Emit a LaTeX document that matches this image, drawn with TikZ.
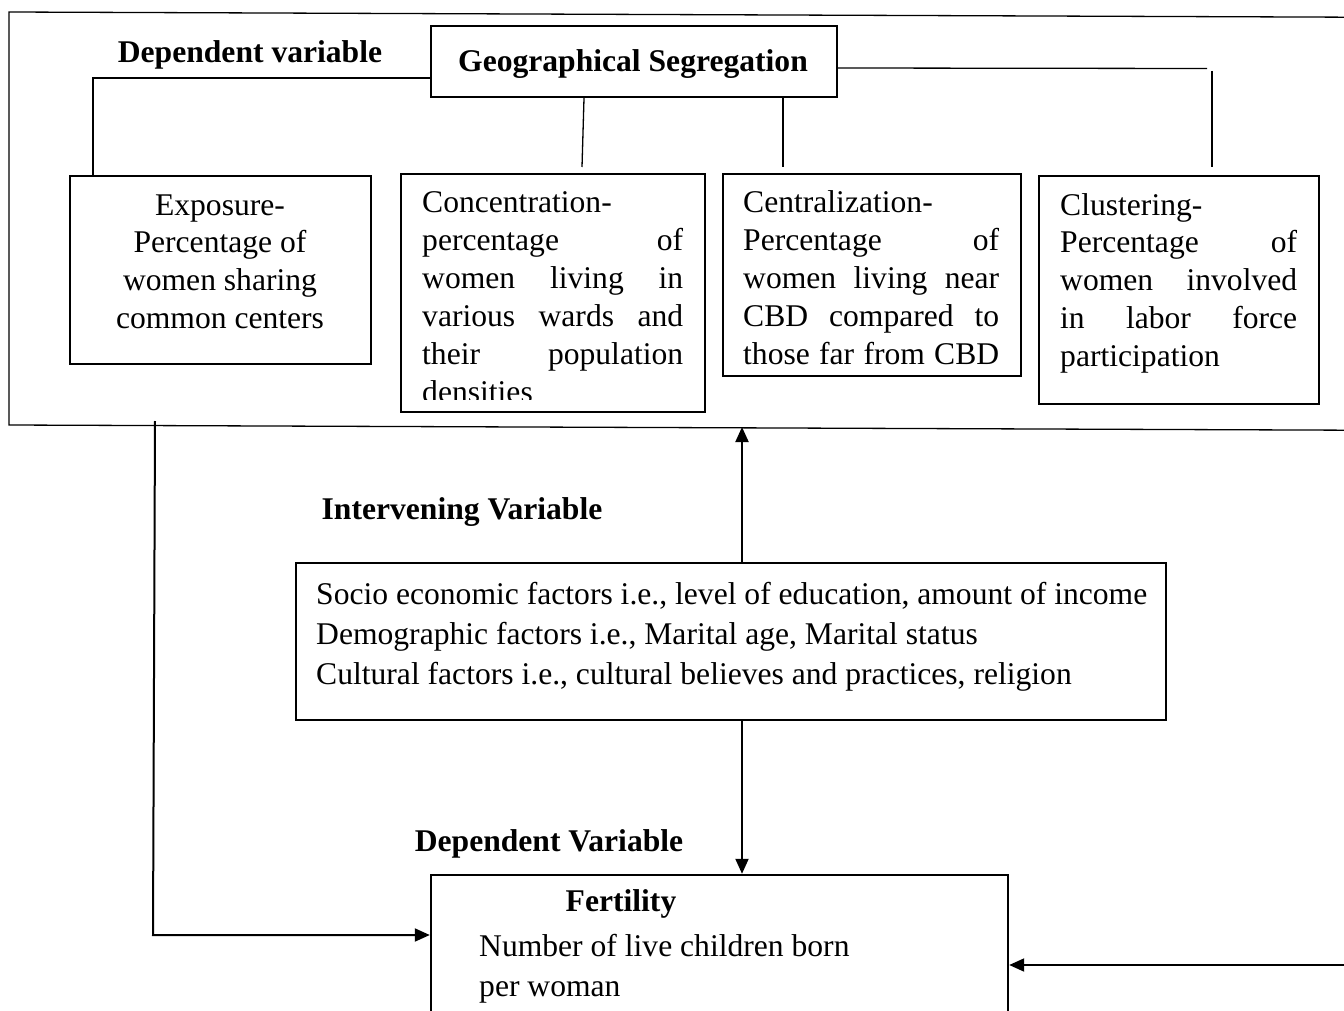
\documentclass[tikz,border=0pt]{standalone}
\usepackage{fontspec}
\setmainfont{Liberation Serif}
\usetikzlibrary{arrows.meta}
\newcommand\sline[1]{\makebox[\linewidth][s]{#1}}
\begin{document}
\begin{tikzpicture}[x=1pt,y=-1pt,
  box/.style={draw,line width=2.4pt,inner sep=0pt,rectangle},
  conn/.style={line width=1.3pt},
  arr/.style={line width=2pt,-{Triangle[length=15pt,width=13pt]}},
  txt/.style={inner sep=0pt,font=\fontsize{31.6}{38}\selectfont},
  hd/.style={inner sep=0pt,font=\fontsize{31.6}{38}\selectfont\bfseries},
]
\clip (0,0) rectangle (1344,1011);
\fill[white] (0,0) rectangle (1344,1011);
% outer frame
\draw[conn] (1350,17.2) -- (9,12) -- (9,425) -- (1350,430.2);
% boxes
\node[box,minimum width=406pt,minimum height=71pt] (gs) at (634,61.5) {};
\node[box,minimum width=301pt,minimum height=188pt] (exp) at (220.5,270) {};
\node[box,minimum width=304pt,minimum height=238pt] (conc) at (553,293) {};
\node[box,minimum width=298pt,minimum height=202pt] (cent) at (872,275) {};
\node[box,minimum width=280pt,minimum height=228pt] (clus) at (1179,290) {};
\node[box,minimum width=870pt,minimum height=157pt] (int) at (731,641.5) {};
\node[box,minimum width=577pt,minimum height=175pt] (fert) at (719.5,962.5) {};
% headings
\node[hd,anchor=base] (dvtop) at (250,63) {Dependent variable};
\node[hd,anchor=base] (gst) at (633,72) {Geographical Segregation};
\node[hd,anchor=base] (ivt) at (462,519) {Intervening Variable};
\node[hd,anchor=base] (dvb) at (549,851) {Dependent Variable};
\node[hd,anchor=base] (fertt) at (621,911) {Fertility};
% box texts
\node[txt,anchor=base] (expt) at (220,215) {\parbox[t]{300pt}{\centering Exposure-\\Percentage of\\women sharing\\common centers}};
\begin{scope}
\clip (401,174) rectangle (705,399.5);
\node[txt,anchor=base west] (conct) at (422,213) {\parbox[t]{261pt}{Concentration-\\\sline{percentage of}\\\sline{women living in}\\\sline{various wards and}\\\sline{their population}\\densities}};
\end{scope}
\node[txt,anchor=base west] (centt) at (743,213) {\parbox[t]{256pt}{Centralization-\\\sline{Percentage of}\\\sline{women living near}\\\sline{CBD compared to}\\\sline{those far from CBD}}};
\node[txt,anchor=base west] (clust) at (1060,215) {\parbox[t]{237pt}{Clustering-\\\sline{Percentage of}\\\sline{women involved}\\\sline{in labor force}\\participation}};
\node[txt,anchor=base west,font=\fontsize{31.6}{40}\selectfont] (intt) at (316,604) {\parbox[t]{850pt}{\raggedright Socio economic factors i.e., level of education, amount of income\\Demographic factors i.e., Marital age, Marital status\\Cultural factors i.e., cultural believes and practices, religion}};
\node[txt,anchor=base west,font=\fontsize{31.6}{40}\selectfont] (fertd) at (479,956) {\parbox[t]{500pt}{\raggedright Number of live children born\\per woman}};
% connectors
\coordinate (c1) at (582,167);
\coordinate (c2) at (783,167);
\coordinate (c3) at (1207,68.5);
\coordinate (c4) at (1212,71);
\coordinate (c5) at (1212,167);
\coordinate (c6) at (742,427);
\coordinate (c7) at (155,421);
\coordinate (c8) at (153,935);
\coordinate (c9) at (1350,965);
\draw[conn] ([yshift=-16.5pt]gs.west) -| ([xshift=-127.5pt]exp.north);
\draw[conn] ([xshift=-50pt]gs.south) -- (c1);
\draw[conn] ([xshift=149pt]gs.south) -- (c2);
\draw[conn] ([yshift=-6.5pt]gs.east) -- (c3);
\draw[conn] (c4) -- (c5);
\draw[arr] ([xshift=11pt]int.north) -- (c6);
\draw[arr] ([xshift=11pt]int.south) -- ([xshift=22.5pt]fert.north);
\draw[arr] (c7) -- (c8) -- ([yshift=27.5pt]fert.west);
\draw[arr] (c9) -- ([yshift=-2.5pt]fert.east);
\end{tikzpicture}
\end{document}
